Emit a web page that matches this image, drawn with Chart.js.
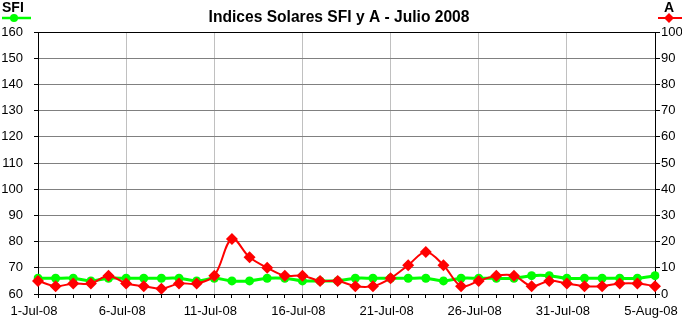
<!DOCTYPE html>
<html>
<head>
<meta charset="utf-8">
<script src="https://cdn.jsdelivr.net/npm/chart.js@4/dist/chart.umd.min.js"></script>
<style>
  body{margin:0;background:#fff}
  #wrap{width:682px;height:322px}
</style>
</head>
<body>
<div id="wrap"><canvas id="grafico" width="682" height="322"></canvas></div>
<script>
const dias = [
  '1-Jul-08','2-Jul-08','3-Jul-08','4-Jul-08','5-Jul-08','6-Jul-08','7-Jul-08','8-Jul-08','9-Jul-08','10-Jul-08',
  '11-Jul-08','12-Jul-08','13-Jul-08','14-Jul-08','15-Jul-08','16-Jul-08','17-Jul-08','18-Jul-08','19-Jul-08','20-Jul-08',
  '21-Jul-08','22-Jul-08','23-Jul-08','24-Jul-08','25-Jul-08','26-Jul-08','27-Jul-08','28-Jul-08','29-Jul-08','30-Jul-08',
  '31-Jul-08','1-Aug-08','2-Aug-08','3-Aug-08','4-Aug-08','5-Aug-08'
];
const sfi = [
  66,66,66,65,66,66,66,66,66,65,
  66,65,65,66,66,65,65,65,66,66,
  66,66,66,65,66,66,66,66,67,67,
  66,66,66,66,66,67
];
const indiceA = [
  5,3,4,4,7,4,3,2,4,4,
  7,21,14,10,7,7,5,5,3,3,
  6,11,16,11,3,5,7,7,3,5,
  4,3,3,4,4,3
];
const ticksSfi = {min:60, max:160, step:10};
const ticksA = {min:0, max:100, step:10};

const VERDE = '#00ff00';
const ROJO = '#ff0000';
const FUENTE = "'Liberation Sans', Arial, sans-serif";
Chart.defaults.font.family = FUENTE;
Chart.defaults.color = '#000';

// titulo y las dos leyendas de los ejes
const rotulos = {
  id:'rotulos',
  afterDraw(c){
    const ctx = c.ctx;
    ctx.save();
    ctx.fillStyle = '#000';
    ctx.textBaseline = 'middle';
    ctx.font = 'bold 15.6px ' + FUENTE;
    ctx.textAlign = 'center';
    ctx.fillText('Indices Solares SFI y A - Julio 2008', 339, 18);

    ctx.font = 'bold 14px ' + FUENTE;
    ctx.textAlign = 'left';
    ctx.fillText('SFI', 2, 8);
    ctx.textAlign = 'center';
    ctx.fillText('A', 669, 8);

    ctx.lineWidth = 2.5;
    ctx.strokeStyle = VERDE;
    ctx.beginPath(); ctx.moveTo(2,18); ctx.lineTo(31,18); ctx.stroke();
    ctx.fillStyle = VERDE;
    ctx.beginPath(); ctx.arc(14,18,4,0,Math.PI*2); ctx.fill();

    ctx.lineWidth = 2;
    ctx.strokeStyle = ROJO;
    ctx.beginPath(); ctx.moveTo(658,18); ctx.lineTo(682,18); ctx.stroke();
    ctx.fillStyle = ROJO;
    ctx.beginPath();
    ctx.moveTo(669,13); ctx.lineTo(674,18); ctx.lineTo(669,23); ctx.lineTo(664,18);
    ctx.closePath(); ctx.fill();
    ctx.restore();
  }
};

new Chart(grafico,{
  type:'line',
  data:{
    labels:dias,
    datasets:[
      {label:'A', data:indiceA, yAxisID:'yA', borderColor:ROJO, backgroundColor:ROJO,
       borderWidth:2, tension:0.35, pointStyle:'rectRot', pointRadius:6, pointBorderWidth:0},
      {label:'SFI', data:sfi, yAxisID:'y', borderColor:VERDE, backgroundColor:VERDE,
       borderWidth:3, tension:0.35, pointStyle:'circle', pointRadius:4.5, pointBorderWidth:0}
    ]
  },
  options:{
    responsive:false,
    animation:false,
    layout:{padding:{top:32,left:0,right:0,bottom:0}},
    plugins:{legend:{display:false}, title:{display:false}, tooltip:{enabled:false}},
    scales:{
      x:{
        offset:false,
        grid:{color:c=>c.index%5===0?'#c0c0c0':'rgba(0,0,0,0)', tickColor:'#000', tickLength:4},
        border:{color:'#000'},
        ticks:{autoSkip:false, maxRotation:0, minRotation:0, padding:6, labelOffset:-4,
               font:{size:13}, callback:(v,i)=>i%5===0?dias[i]:''},
        afterFit(s){ s.height = 28; s.paddingLeft = 0; s.paddingRight = 0; }
      },
      y:{
        position:'left',
        min:ticksSfi.min, max:ticksSfi.max,
        grid:{color:c=>c.tick.value===ticksSfi.max?'#000':'#808080', tickColor:'#000', tickLength:4},
        border:{color:'#000'},
        ticks:{stepSize:ticksSfi.step, padding:11, font:{size:13}},
        afterFit(s){ s.width = 38; }
      },
      yA:{
        position:'right',
        min:ticksA.min, max:ticksA.max,
        grid:{drawOnChartArea:false, tickColor:'#000', tickLength:5},
        border:{color:'#000'},
        ticks:{stepSize:ticksA.step, padding:1, font:{size:13}},
        afterFit(s){ s.width = 27; }
      }
    }
  },
  plugins:[rotulos]
});
</script>
</body>
</html>
